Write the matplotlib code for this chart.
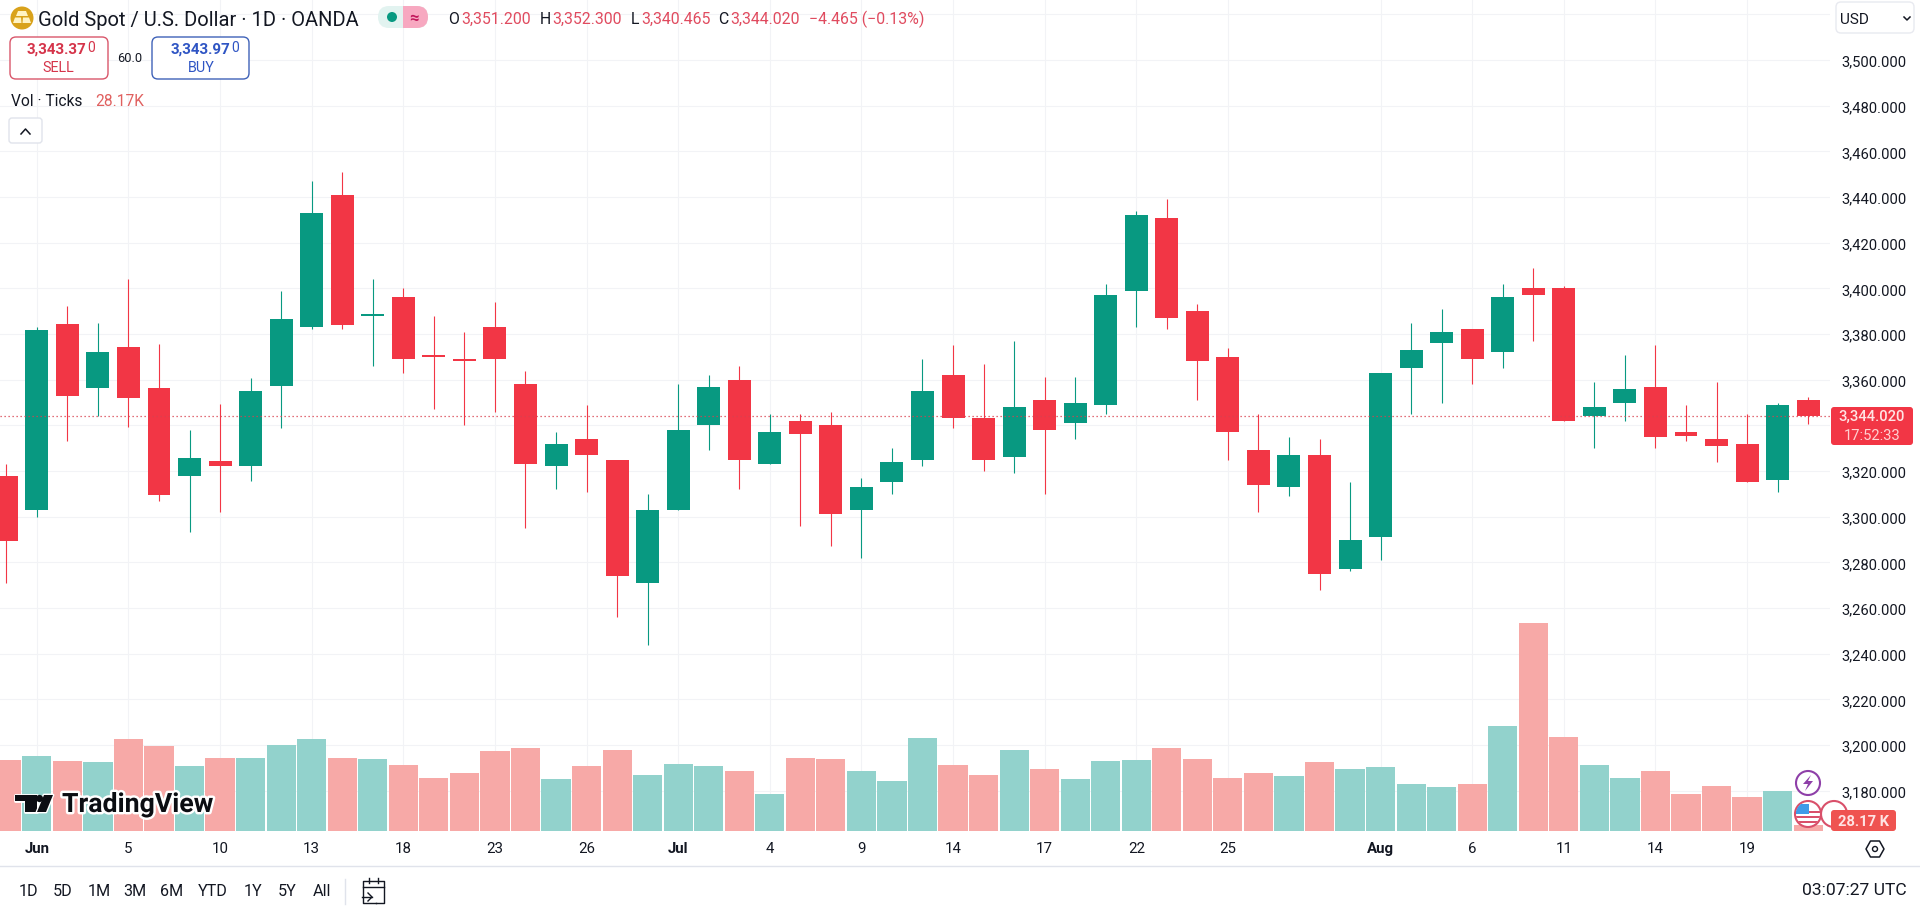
import matplotlib
matplotlib.use("Agg")
import matplotlib.pyplot as plt
import matplotlib.patheffects as pe
from matplotlib.patches import Circle, FancyBboxPatch, Polygon, Rectangle

W, H = 1920, 912
FONT = ["Roboto", "DejaVu Sans"]
plt.rcParams["font.family"] = FONT

GREEN = "#089981"
RED = "#F23645"
VOL_GREEN = "#92D2CC"
VOL_RED = "#F7A9A7"
GRID = "#F2F3F6"
TEXT = "#131722"
HDR_RED = "#E04B5F"

opens = [3318, 3303, 3384.4, 3356.5, 3374.3, 3356.3, 3317.6, 3324.4, 3322, 3357.4, 3383, 3441, 3388, 3396, 3371, 3369, 3383, 3358, 3322, 3334,
         3325, 3271, 3303, 3340, 3360, 3323, 3342, 3340, 3303, 3315, 3325, 3362, 3343, 3326, 3351, 3341, 3349, 3399, 3431, 3390,
         3370, 3329, 3313, 3327, 3277, 3291, 3365, 3376, 3382, 3372, 3400, 3400, 3344, 3350, 3357, 3337, 3334, 3332, 3316, 3351.2]
closes = [3289.5, 3381.7, 3353, 3372, 3352, 3309.6, 3325.7, 3322.3, 3355, 3386.6, 3433, 3384, 3388.6, 3369, 3370, 3368, 3369, 3323, 3332, 3327,
          3274, 3303, 3338, 3357, 3325, 3337, 3336, 3301, 3313, 3324, 3355, 3343, 3325, 3348, 3338, 3350, 3397, 3432, 3387, 3368,
          3337, 3314, 3327, 3275, 3290, 3363, 3373, 3381, 3369, 3396, 3397, 3342, 3348, 3356, 3335, 3335.5, 3331, 3315, 3349, 3344.02]
highs = [3323, 3383, 3392.4, 3384.8, 3404, 3375.6, 3338, 3349.3, 3360.6, 3399, 3447, 3451, 3404, 3400, 3388, 3381, 3394, 3364, 3337, 3349,
         3325, 3310, 3358, 3362, 3366, 3345, 3345, 3346, 3317, 3330, 3369, 3375, 3367, 3377, 3361, 3361, 3402, 3434, 3439, 3393,
         3374, 3345, 3335, 3334, 3315, 3363, 3385, 3391, 3382, 3402, 3409, 3401, 3359, 3371, 3375, 3349, 3359, 3345, 3350, 3352.3]
lows = [3271, 3300, 3333.3, 3344, 3339.4, 3307, 3293.4, 3302, 3315.8, 3338.7, 3382, 3382, 3366, 3363, 3347, 3340, 3346, 3295, 3312, 3311,
        3256, 3244, 3303, 3329, 3312, 3323, 3296, 3287, 3282, 3310, 3322, 3339, 3320, 3319, 3310, 3334, 3345, 3383, 3382, 3351,
        3325, 3302, 3309, 3268, 3276, 3281, 3345, 3350, 3358, 3365, 3377, 3342, 3330, 3342, 3330, 3333, 3324, 3315, 3311, 3340.465]
volumes_k = [334, 351, 328, 322, 431, 397, 305, 345, 345, 403, 431, 345, 339, 311, 247, 270, 374, 391, 242, 305,
             380, 265, 316, 305, 282, 173, 345, 339, 282, 236, 437, 311, 265, 380, 293, 242, 328, 334, 391, 339,
             247, 270, 259, 322, 293, 299, 219, 207, 219, 495, 978, 443, 311, 247, 282, 173, 213, 161, 190, 28.17]
tick_index = [1, 4, 7, 10, 13, 16, 19, 22, 25, 28, 31, 34, 37, 40, 45, 48, 51, 54, 57]
tick_labels = ["Jun", "5", "10", "13", "18", "23", "26", "Jul", "4", "9", "14", "17", "22", "25", "Aug", "6", "11", "14", "19"]
months = {"Jun", "Jul", "Aug"}
price_ticks = list(range(3180, 3521, 20))
hidden_price_labels = {3340, 3520}
last_price = 3344.02
range_buttons = ["1D", "5D", "1M", "3M", "6M", "YTD", "1Y", "5Y", "All"]

fig = plt.figure(figsize=(W / 100, H / 100), dpi=100, facecolor="white")
plot_right, plot_bottom = 1830, 832
rect = [0, 1 - plot_bottom / H, plot_right / W, plot_bottom / H]

vol = fig.add_axes(rect, zorder=1)
ax = fig.add_axes(rect, zorder=2)
ax.patch.set_alpha(0)
vol.set_facecolor("white")

x_first, x_step = 6.3, 30.54
x_left = (0 - x_first) / x_step
x_right = (plot_right - x_first) / x_step
px_per_price = 45.667 / 20
ax.set_xlim(x_left, x_right)
ax.set_ylim(3500 - (plot_bottom - 61) / px_per_price, 3500 + 61 / px_per_price)
vol.set_xlim(x_left, x_right)
vol.set_ylim(0, plot_bottom * 28.17 / 6)

xs = list(range(len(opens)))
for a in (ax, vol):
    for s in a.spines.values():
        s.set_visible(False)

# grid lives on the rear axes so the volume bars sit on top of it
vol.set_xticks(tick_index)
vol.set_xticklabels([])
vol.set_yticks([])
vol.tick_params(length=0)
vol.grid(axis="x", color=GRID, lw=0.8)
vol.set_axisbelow(True)
for p in price_ticks:
    vol.axhline((p - ax.get_ylim()[0]) * px_per_price * 28.17 / 6, color=GRID, lw=0.8, zorder=0.5)

vol.bar(xs, volumes_k, width=0.955,
        color=[VOL_GREEN if c >= o else VOL_RED for o, c in zip(opens, closes)], zorder=2)

colors = [GREEN if c >= o else RED for o, c in zip(opens, closes)]
ax.vlines(xs, lows, highs, colors=colors, lw=0.8, zorder=3)
ax.bar(xs, [max(abs(c - o), 0.6) for o, c in zip(opens, closes)],
       bottom=[min(o, c) for o, c in zip(opens, closes)], width=0.753, color=colors, zorder=4)
ax.axhline(last_price, color="#D9404F", lw=0.9, ls=(0, (1, 2.2)), zorder=4.5)

ax.yaxis.tick_right()
ax.set_yticks(price_ticks)
ax.set_yticklabels([f"{p:,}.000" if p not in hidden_price_labels else "" for p in price_ticks], fontsize=10.6, color=TEXT)
ax.tick_params(axis="y", length=0, pad=8.5)
ax.set_xticks(tick_index)
ax.set_xticklabels(tick_labels, fontsize=10.8, color=TEXT)
ax.tick_params(axis="x", length=0, pad=7)
for lab in ax.get_xticklabels():
    if lab.get_text() in months:
        lab.set_fontweight("bold")

# interface overlay, positioned in screen pixels
ui = fig.add_axes([0, 0, 1, 1], zorder=5)
ui.set_xlim(0, W)
ui.set_ylim(H, 0)
ui.axis("off")


def txt(x, y, s, size=10.2, color=TEXT, ha="left", weight="normal", **kw):
    return ui.text(x, y, s, fontsize=size, color=color, ha=ha, va="center", fontweight=weight, **kw)


def box(x0, y0, x1, y1, fc="white", ec="none", r=4, lw=1, **kw):
    p = FancyBboxPatch((x0 + r, y0 + r), x1 - x0 - 2 * r, y1 - y0 - 2 * r,
                       boxstyle=f"round,pad={r},rounding_size={r}", fc=fc, ec=ec, lw=lw, **kw)
    ui.add_patch(p)
    return p


# header
ui.add_patch(Circle((22, 19), 11.5, fc="#D9A21B", ec="none"))
ui.add_patch(Polygon([(18, 12), (26, 12), (28, 17), (16, 17)], fc="#FFF3C4", ec="none"))
ui.add_patch(Polygon([(13, 24), (15, 18.5), (21, 18.5), (21.5, 24)], fc="#FFF3C4", ec="none"))
ui.add_patch(Polygon([(22.5, 24), (23, 18.5), (29, 18.5), (31, 24)], fc="#FFF3C4", ec="none"))
txt(38, 20, "Gold Spot / U.S. Dollar · 1D · OANDA", size=14.5)
pill = box(378, 7, 428, 29, fc="#E2F3F0", r=11)
pink = Rectangle((403, 5), 27, 26, fc="#F7A8C0", ec="none")
ui.add_patch(pink)
pink.set_clip_path(pill)
ui.add_patch(Circle((392, 18), 5, fc=GREEN, ec="none"))
txt(414, 18.5, "≈", size=12, color="#C2185B", ha="center", weight="bold")
for lx, ls, vx, vs in [(448, "O", 461, "3,351.200"), (540, "H", 552, "3,352.300"),
                       (631, "L", 641, "3,340.465"), (718, "C", 730, "3,344.020")]:
    txt(lx, 19.5, ls, size=11.4)
    txt(vx, 19.5, vs, size=11.4, color=HDR_RED)
txt(809, 19.5, "−4.465 (−0.13%)", size=11.4, color=HDR_RED)

# sell / buy
box(10, 38, 108, 80, ec="#D9566A", r=6)
txt(86, 50, "3,343.37", size=10.9, color="#D5344A", ha="right", weight="bold")
txt(87, 48.5, "0", size=10, color="#D5344A")
txt(58, 68, "SELL", size=10.4, color="#D5344A", ha="center")
txt(130, 59, "60.0", size=9.2, ha="center")
box(152, 38, 249, 80, ec="#3F62B8", r=6)
txt(230, 50, "3,343.97", size=10.9, color="#2F55C4", ha="right", weight="bold")
txt(231, 48.5, "0", size=10, color="#2F55C4")
txt(201, 68, "BUY", size=10.4, color="#2F55C4", ha="center")
txt(11, 101, "Vol · Ticks", size=11.2)
txt(95, 101, "28.17K", size=11.2, color="#E0605F")
box(9, 119, 42, 144, ec="#E0E3EB", r=3)
ui.plot([21, 25.5, 30], [135, 130, 135], color=TEXT, lw=1.1)

# currency selector
box(1836, 3, 1914, 34, ec="#E8EAF0", r=5)
txt(1840, 20, "USD", size=11)
ui.plot([1904, 1907, 1910], [18, 21, 18], color=TEXT, lw=1.1)

# last price label
box(1831, 408, 1913, 446, fc=RED, r=3)
txt(1872, 417, "3,344.020", size=10.6, color="#FFE4E4", ha="center", weight="medium")
txt(1872, 436, "17:52:33", size=10.6, color="#FFD0D0", ha="center")

# event markers and the volume label
ui.add_patch(Circle((1808, 784), 12, fc="white", ec="#8E3FA8", lw=1.5))
ui.add_patch(Polygon([(1811, 776), (1803, 785), (1808, 785), (1805, 792), (1813, 782), (1808, 782)], fc="#8E3FA8", ec="none"))
ui.add_patch(Circle((1834, 815), 13, fc="white", ec="#D9506A", lw=1.5, zorder=1))
box(1831, 811, 1896, 832, fc="#EF5350", r=3, zorder=1.5)
txt(1863, 822, "28.17 K", size=10.6, color="#FFE4E4", ha="center", weight="bold", zorder=2)
ui.add_patch(Circle((1808, 815), 13, fc="white", ec="#D9506A", lw=1.5, zorder=3))
flag_clip = Circle((1808, 815), 12.2, transform=ui.transData)
for yy in (812, 817, 822):
    bar = Rectangle((1796, yy), 24, 2.4, fc="#D9506A", ec="none", zorder=3.1)
    ui.add_patch(bar)
    bar.set_clip_path(flag_clip)
canton = Rectangle((1796, 805), 13, 10, fc="#3F9BE8", ec="none", zorder=3.2)
ui.add_patch(canton)
canton.set_clip_path(flag_clip)

# gear
ui.add_patch(Polygon([(1866, 850), (1870.5, 842), (1879.5, 842), (1884, 850), (1879.5, 858), (1870.5, 858)],
                     fc="white", ec=TEXT, lw=1.1, joinstyle="round"))
ui.add_patch(Circle((1875, 850), 2.5, fc="white", ec=TEXT, lw=1))

# watermark
halo = [pe.withStroke(linewidth=3.5, foreground="white")]
LOGO = "#0B0D12"
for verts in ([(15, 796), (37, 796), (37, 813), (25, 813), (25, 802), (15, 802)],
              [(44, 796), (53, 796), (46, 813), (37, 813)]):
    ui.add_patch(Polygon(verts, fc=LOGO, ec="white", lw=2, joinstyle="round"))
    ui.add_patch(Polygon(verts, fc=LOGO, ec="none"))
ui.add_patch(Circle((39.5, 799.5), 3.6, fc=LOGO, ec="none"))
txt(62, 805.5, "TradingView", size=19.2, color=LOGO, weight="bold", path_effects=halo)

# bottom bar
ui.plot([0, W], [867, 867], color="#E0E3EB", lw=1)
for cx, s in zip([28, 62.5, 99, 135, 172, 213, 253, 287, 322], range_buttons):
    txt(cx, 892, s, size=11.6, ha="center")
ui.plot([345, 345], [880, 905], color="#E0E3EB", lw=1)
ui.plot([376, 363, 363, 384, 384, 376], [904, 904, 882, 882, 904, 904], color=TEXT, lw=1)
ui.plot([363, 384], [888, 888], color=TEXT, lw=1)
ui.plot([369, 369], [879, 884], color=TEXT, lw=1)
ui.plot([378, 378], [879, 884], color=TEXT, lw=1)
ui.add_patch(Rectangle((360, 893), 12, 14, fc="white", ec="none"))
ui.plot([362, 372], [898, 898], color=TEXT, lw=1)
ui.plot([368, 372, 368], [894, 898, 902], color=TEXT, lw=1)
txt(1907, 891, "03:07:27 UTC", size=12.6, ha="right")

fig.savefig("out.png", dpi=100, facecolor="white")
